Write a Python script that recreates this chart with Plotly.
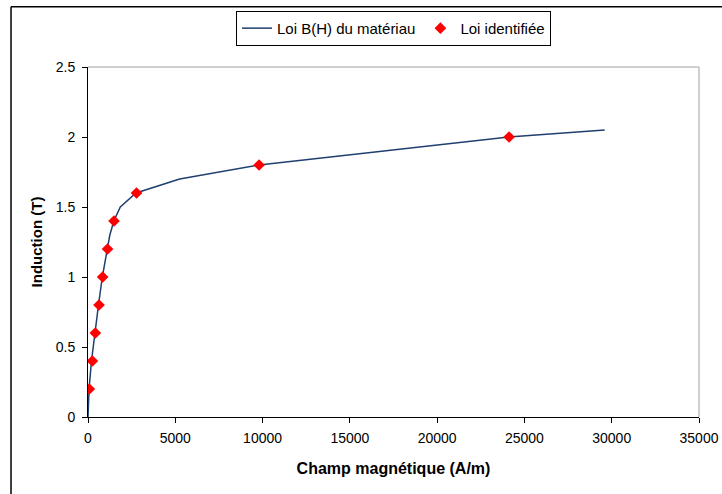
import plotly.graph_objects as go

# Loi B(H) du matériau (courbe)
h_curve = [0, 60, 200, 380, 600, 820, 1100, 1250, 1480, 1850, 2750, 5250, 9800, 24100, 29600]
b_curve = [0, 0.2, 0.4, 0.6, 0.8, 1.0, 1.2, 1.3, 1.4, 1.5, 1.6, 1.7, 1.8, 2.0, 2.05]

# Loi identifiée (points)
h_ident = [75, 250, 420, 630, 840, 1120, 1490, 2780, 9800, 24120]
b_ident = [0.2, 0.4, 0.6, 0.8, 1.0, 1.2, 1.4, 1.6, 1.8, 2.0]

x_ticks = [0, 5000, 10000, 15000, 20000, 25000, 30000, 35000]
x_labels = ["0", "5000", "10000", "15000", "20000", "25000", "30000", "35000"]
y_ticks = [0, 0.5, 1, 1.5, 2, 2.5]
y_labels = ["0", "0.5", "1", "1.5", "2", "2.5"]

font = "Liberation Sans, Arial, sans-serif"

fig = go.Figure()
fig.add_trace(go.Scatter(
    x=h_curve, y=b_curve, mode="lines",
    line=dict(color="#1f3f6e", width=1.5),
    name="Loi B(H) du matériau",
))
fig.add_trace(go.Scatter(
    x=h_ident, y=b_ident, mode="markers",
    marker=dict(symbol="diamond", color="#ff0000", size=9),
    name="Loi identifiée",
))

fig.update_layout(
    width=722, height=494,
    margin=dict(l=88, r=23, t=66, b=77),
    paper_bgcolor="white", plot_bgcolor="white",
    font=dict(family=font, size=14, color="black"),
    legend=dict(
        orientation="h", x=0.5, xanchor="center", y=1.157, yanchor="top",
        bordercolor="black", borderwidth=1, bgcolor="white",
        font=dict(size=15), itemwidth=30, tracegroupgap=0,
    ),
    xaxis=dict(
        range=[0, 35000], tickvals=x_ticks, ticktext=x_labels, ticks="outside", ticklen=5,
        tickcolor="black", showline=True, linecolor="black", linewidth=1,
        showgrid=False, zeroline=False, automargin=False, ticklabelstandoff=3,
        title=dict(text="<b>Champ magnétique (A/m)</b>", font=dict(size=16), standoff=18),
    ),
    yaxis=dict(
        range=[0, 2.5], tickvals=y_ticks, ticktext=y_labels, ticks="outside", ticklen=5,
        tickcolor="black", showline=True, linecolor="black", linewidth=1,
        showgrid=False, zeroline=False, automargin=False, ticklabelstandoff=4,
        title=dict(text="<b>Induction (T)</b>", font=dict(size=15), standoff=9),
    ),
    shapes=[
        # bord haut et droit de la zone de tracé
        dict(type="line", xref="paper", yref="paper", x0=0, x1=1, y0=1, y1=1,
             line=dict(color="#a0a0a0", width=1)),
        dict(type="line", xref="paper", yref="paper", x0=1, x1=1, y0=0, y1=1,
             line=dict(color="#a0a0a0", width=1)),
        # cadre du graphique
        dict(type="line", xref="paper", yref="paper", x0=-0.126, x1=1.05, y0=1.172, y1=1.172,
             line=dict(color="black", width=1.5)),
        dict(type="line", xref="paper", yref="paper", x0=-0.126, x1=-0.126, y0=1.172, y1=-0.23,
             line=dict(color="black", width=1.5)),
    ],
)

fig.write_html("out.html", config={"displayModeBar": False},
               post_script="document.body.style.margin='0';")
